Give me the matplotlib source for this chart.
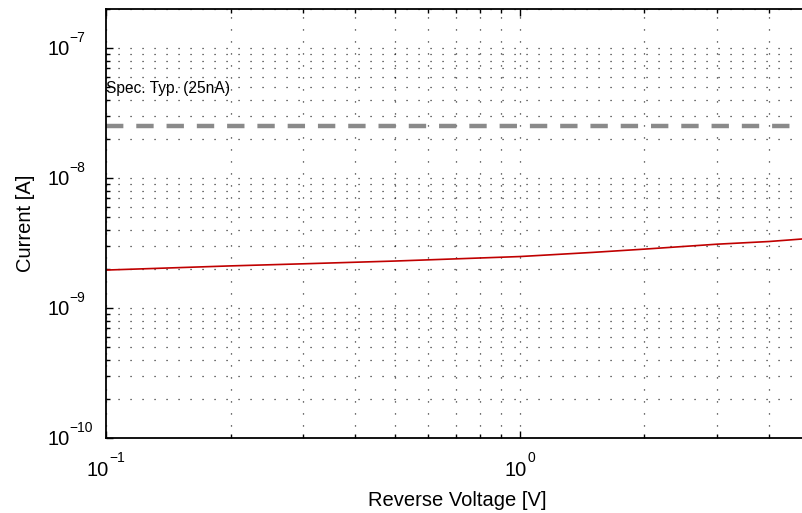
import numpy as np
import matplotlib
matplotlib.use("Agg")
import matplotlib.pyplot as plt
from matplotlib.ticker import LogLocator, NullFormatter
from matplotlib.font_manager import FontProperties
from matplotlib.textpath import TextToPath

plt.rcParams["font.family"] = ["Liberation Sans", "DejaVu Sans"]
plt.rcParams["lines.scale_dashes"] = False

# Reverse leakage current vs. reverse voltage
voltage = [0.1, 0.2, 0.3, 0.5, 0.7, 1.0, 1.5, 2.0, 3.0, 4.0, 5.0]          # V
current = [1.96e-9, 2.11e-9, 2.19e-9, 2.30e-9, 2.39e-9, 2.49e-9,
           2.68e-9, 2.84e-9, 3.10e-9, 3.25e-9, 3.43e-9]                      # A

spec_typ = 25e-9  # typical spec value, A
spec_label = "Spec. Typ. (25nA)"

x_limits = (0.1, 5.0)
y_limits = (1e-10, 2e-7)
x_decades = [-1, 0]
y_decades = [-10, -9, -8, -7]

BASE_PT = 14.5   # "10" of the tick labels
EXP_PT = 10.0    # exponent of the tick labels
EXP_RAISE = 9.5  # exponent baseline above base baseline, points

fig = plt.figure(figsize=(8.02, 5.13), dpi=100)
W, H = 802, 513
left, right, top, bottom = 106, 809, 9, 438
ax = fig.add_axes([left / W, 1 - bottom / H, (right - left) / W, (bottom - top) / H])

ax.set_xscale("log")
ax.set_yscale("log")
ax.set_xlim(*x_limits)
ax.set_ylim(*y_limits)

# dotted grid on every decade and sub-decade
ax.grid(which="both", linestyle=(0, (0.8, 7.84)), color="black", linewidth=0.9, alpha=0.9)
ax.set_axisbelow(True)

ax.plot(voltage, current, color="#c00000", linewidth=1.2)
ax.plot(x_limits, [spec_typ, spec_typ], color="#8a8a8a", linewidth=3.2,
        dashes=(12.5, 9.3))
ax.text(x_limits[0], 4.9e-8, spec_label, fontsize=11.2, ha="left", va="center")

for axis in (ax.xaxis, ax.yaxis):
    axis.set_major_locator(LogLocator(base=10))
    axis.set_minor_locator(LogLocator(base=10, subs=np.arange(2, 10)))
    axis.set_major_formatter(NullFormatter())
    axis.set_minor_formatter(NullFormatter())

ax.tick_params(which="both", direction="in", top=True, right=True, width=1.0)
ax.tick_params(which="major", length=5)
ax.tick_params(which="minor", length=3)

for s in ax.spines.values():
    s.set_linewidth(1.3)

# tick labels written as "10" with a raised exponent
t2p = TextToPath()
fam = plt.rcParams["font.family"]


def text_width_pt(s, size):
    w, _, _ = t2p.get_text_width_height_descent(s, FontProperties(family=fam, size=size), ismath=False)
    return w


w10 = text_width_pt("10", BASE_PT)
digit_half = 0.358 * BASE_PT  # half the digit height, points

for e in x_decades:
    exp = "\u2212%d" % -e if e < 0 else "%d" % e
    total = w10 + text_width_pt(exp, EXP_PT)
    xy = (10.0 ** e, 0)
    base_dy = -27.0  # baseline below the axis line, points
    ax.annotate("10", xy=xy, xycoords=("data", "axes fraction"),
                xytext=(-total / 2, base_dy), textcoords="offset points",
                fontsize=BASE_PT, ha="left", va="baseline", annotation_clip=False)
    ax.annotate(exp, xy=xy, xycoords=("data", "axes fraction"),
                xytext=(-total / 2 + w10, base_dy + EXP_RAISE), textcoords="offset points",
                fontsize=EXP_PT, ha="left", va="baseline", annotation_clip=False)

for e in y_decades:
    exp = "\u2212%d" % -e if e < 0 else "%d" % e
    xy = (0, 10.0 ** e)
    x0 = -(left - 47) * 0.72  # label start, points left of the axis line
    ax.annotate("10", xy=xy, xycoords=("axes fraction", "data"),
                xytext=(x0, -digit_half), textcoords="offset points",
                fontsize=BASE_PT, ha="left", va="baseline", annotation_clip=False)
    ax.annotate(exp, xy=xy, xycoords=("axes fraction", "data"),
                xytext=(x0 + w10, -digit_half + EXP_RAISE), textcoords="offset points",
                fontsize=EXP_PT, ha="left", va="baseline", annotation_clip=False)

ax.set_xlabel("Reverse Voltage [V]", fontsize=14.5)
ax.set_ylabel("Current [A]", fontsize=14.5)
ax.xaxis.set_label_coords(0.5, -0.1245)
ax.yaxis.set_label_coords(-0.101, 0.5)

fig.savefig("out.png", dpi=100)
